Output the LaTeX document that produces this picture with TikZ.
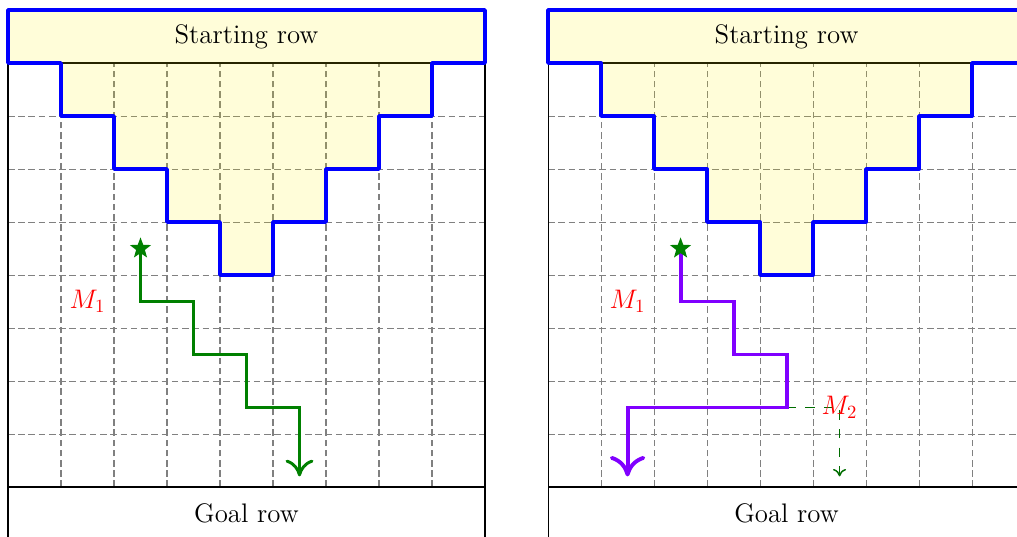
\documentclass[tikz,border=0pt]{standalone}
\usetikzlibrary{shapes.geometric,arrows.meta}

\definecolor{pathgreen}{RGB}{0,128,0}
\definecolor{pathviolet}{RGB}{128,0,255}

\tikzset{
  gridline/.style={gray, line width=0.55pt, dash pattern=on 3.5pt off 2pt},
  frame/.style={black, line width=0.6pt},
  region/.style={fill=yellow, fill opacity=0.15},
  stair/.style={blue, line width=2pt, line join=round},
  rowlabel/.style={font=\Large, inner sep=0pt},
  movelabel/.style={font=\Large, text=red, inner sep=0pt},
  startstar/.style={star, star points=5, star point ratio=2.4, fill=pathgreen,
    draw=none, minimum size=0.42cm, inner sep=0pt},
  greenmove/.style={pathgreen, line width=1.6pt, line join=miter,
    -{To[length=9pt,width=15pt]}},
  violetmove/.style={pathviolet, line width=2.1pt, line join=miter,
    -{To[length=11pt,width=19pt]}},
  ghostmove/.style={pathgreen!85!black, line width=0.8pt, dash pattern=on 5pt off 5pt,
    -{To[length=4pt,width=7pt]}},
}

% One board: dashed grid, black frame, goal row, shaded staircase with the start row
\newcommand{\boardframe}{%
  \draw[gridline] (0,0) grid (9,8);
  \draw[frame] (0,-1) rectangle (9,0);
  \draw[frame] (0,0) -- (0,8) -- (9,8) -- (9,0);
  \path[region] (0,8) -- (0,9) -- (9,9) -- (9,8) -- (8,8) -- (8,7) -- (7,7)
    -- (7,6) -- (6,6) -- (6,5) -- (5,5) -- (5,4) -- (4,4) -- (4,5) -- (3,5)
    -- (3,6) -- (2,6) -- (2,7) -- (1,7) -- (1,8) -- cycle;
  \draw[stair] (0,8) -- (0,9) -- (9,9) -- (9,8) -- (8,8) -- (8,7) -- (7,7)
    -- (7,6) -- (6,6) -- (6,5) -- (5,5) -- (5,4) -- (4,4) -- (4,5) -- (3,5)
    -- (3,6) -- (2,6) -- (2,7) -- (1,7) -- (1,8) -- cycle;
}

\begin{document}
\begin{tikzpicture}
\useasboundingbox (-0.151,-0.925) rectangle (19.038,9.189);

% Left board: move M1
\begin{scope}
  \boardframe
  \node[rowlabel] (startL) at (4.5,8.5) {Starting row};
  \node[rowlabel] (goalL) at (4.5,-0.5) {Goal row};
  \coordinate (sL) at (2.5,4.5);
  \coordinate (eL) at (5.5,0.2);
  \draw[greenmove] (sL) -- (2.5,3.5) -- (3.5,3.5) -- (3.5,2.5) -- (4.5,2.5)
    -- (4.5,1.5) -- (5.5,1.5) -- (eL);
  \node[startstar] (starL) at (sL) {};
  \node[movelabel] (m1L) at (1.5,3.5) {$M_1$};
\end{scope}

% Right board: M1 followed by M2
\begin{scope}[xshift=10.19cm]
  \boardframe
  \node[rowlabel] (startR) at (4.5,8.5) {Starting row};
  \node[rowlabel] (goalR) at (4.5,-0.5) {Goal row};
  \coordinate (sR) at (2.5,4.5);
  \coordinate (turnR) at (4.5,1.5);
  \coordinate (eR) at (1.5,0.2);
  \coordinate (gR) at (5.5,0.2);
  \draw[ghostmove] (turnR) -- (5.5,1.5) -- (gR);
  \draw[violetmove] (sR) -- (2.5,3.5) -- (3.5,3.5) -- (3.5,2.5) -- (4.5,2.5)
    -- (turnR) -- (1.5,1.5) -- (eR);
  \node[startstar] (starR) at (sR) {};
  \node[movelabel] (m1R) at (1.5,3.5) {$M_1$};
  \node[movelabel] (m2R) at (5.5,1.5) {$M_2$};
\end{scope}
\end{tikzpicture}
\end{document}
